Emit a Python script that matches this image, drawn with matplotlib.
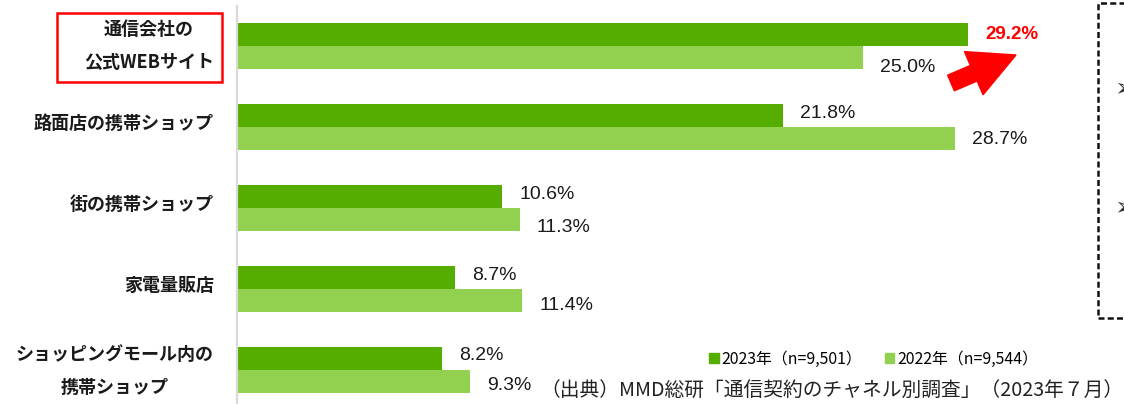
import matplotlib.pyplot as plt
from matplotlib.patches import Rectangle, FancyArrow, Patch
from matplotlib.transforms import IdentityTransform

plt.rcParams['font.family'] = ['Noto Sans CJK JP', 'DejaVu Sans']

categories = ['通信会社の\n公式WEBサイト', '路面店の携帯ショップ', '街の携帯ショップ',
              '家電量販店', 'ショッピングモール内の\n携帯ショップ']
share_2023 = [29.2, 21.8, 10.6, 8.7, 8.2]
share_2022 = [25.0, 28.7, 11.3, 11.4, 9.3]
legend_labels = ['2023年（n=9,501）', '2022年（n=9,544）']
source = '（出典）MMD総研「通信契約のチャネル別調査」（2023年７月）'

c23 = '#55ad00'
c22 = '#92d050'
W, H = 1124, 404
px_per_unit = 25.03

fig = plt.figure(figsize=(W / 100, H / 100), dpi=100)
ax = fig.add_axes([237 / W, 0, (W - 237) / W, (H - 6) / H])

pos = list(range(len(categories)))
h = 23 / 81
ax.barh([p - h / 2 for p in pos], share_2023, height=h, color=c23)
ax.barh([p + h / 2 for p in pos], share_2022, height=h, color=c22)

ax.set_xlim(0, (W - 237) / px_per_unit)
ax.set_ylim(4 + 34 / 81, -40 / 81)

for s in ['top', 'right', 'bottom']:
    ax.spines[s].set_visible(False)
ax.spines['left'].set_color('#d9d9d9')
ax.spines['left'].set_linewidth(1.6)
ax.set_xticks([])
ax.set_yticks([])

# category labels, right edge at x=213px, centre-aligned lines
lab_dy = [0, -4, -4, -4, 1]
for i, lab in enumerate(categories):
    ax.text(-23 / (W - 237), i + lab_dy[i] / 81, lab, transform=ax.get_yaxis_transform(),
            ha='right', va='center', multialignment='center', linespacing=1.95,
            fontsize=13, fontweight='bold', color='#1a1a1a')

num_font = ['Liberation Sans', 'DejaVu Sans']
gap = 17 / px_per_unit
dy23 = [0, -2.5, -2.5, -2.5, -3]
dy22 = [10, 1, 8, 4.5, 3.5]
for i in pos:
    v = share_2023[i]
    if i == 0:
        ax.text(v + gap, i - h / 2 + dy23[i] / 81, f'{v}%', ha='left', va='center',
                fontsize=13.5, fontweight='bold', color='#ff0000', family=num_font)
    else:
        ax.text(v + gap, i - h / 2 + dy23[i] / 81, f'{v}%', ha='left', va='center',
                fontsize=14, color='#1a1a1a', family=num_font)
    v = share_2022[i]
    ax.text(v + gap, i + h / 2 + dy22[i] / 81, f'{v}%', ha='left', va='center',
            fontsize=14, color='#1a1a1a', family=num_font)

# red frame around the first category
fig.add_artist(Rectangle((57, H - 82), 165, 69, fill=False, edgecolor='#ff0000',
                         linewidth=1.8, transform=IdentityTransform()))

# red arrow
fig.add_artist(FancyArrow(951, H - 83, 65, 28, width=17, head_width=47, head_length=46,
                          length_includes_head=True, color='#ff0000',
                          transform=IdentityTransform()))

# dashed box on the right (cut off)
fig.add_artist(Rectangle((1098, H - 318), 60, 315, fill=False, edgecolor='#111111',
                         linewidth=1.8, linestyle=(0, (2.4, 1.3)),
                         transform=IdentityTransform()))
for y in [88, 207]:
    fig.text(1114 / W, (H - y) / H, '➢', fontsize=18, family='DejaVu Sans',
             color='#333333', ha='left', va='center')

handles = [Patch(color=c23), Patch(color=c22)]
fig.legend(handles, legend_labels, loc='center left',
           bbox_to_anchor=(709 / W, (H - 359) / H), ncol=2, frameon=False,
           prop={'family': ['Noto Sans CJK JP'], 'size': 11.4},
           handlelength=0.6, handleheight=0.6, handletextpad=0.2, columnspacing=1.4,
           borderpad=0, borderaxespad=0)

fig.text(1123 / W, (H - 390) / H, source, fontsize=14.2, color='#222222',
         ha='right', va='center')

fig.savefig('out.png', dpi=100)
